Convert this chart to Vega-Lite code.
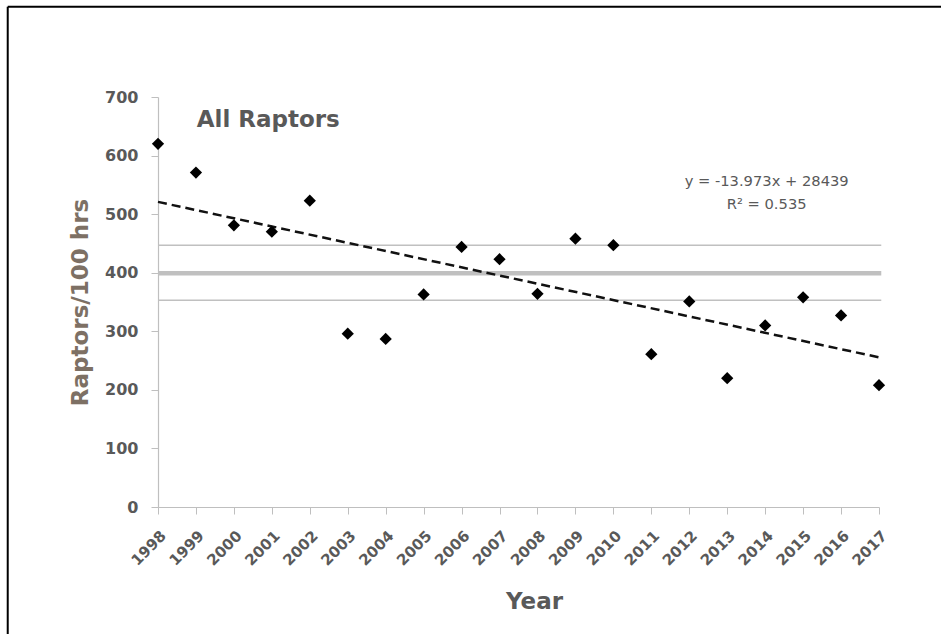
{
  "$schema": "https://vega.github.io/schema/vega-lite/v6.json",
  "width": 721,
  "height": 410,
  "autosize": {"type": "none"},
  "padding": {"left": 158, "top": 97, "right": 62, "bottom": 127},
  "background": "white",
  "config": {"view": {"stroke": null}, "font": "DejaVu Sans"},
  "datasets": {
    "counts": [
      {"year": 1998, "value": 620},
      {"year": 1999, "value": 571},
      {"year": 2000, "value": 481},
      {"year": 2001, "value": 470},
      {"year": 2002, "value": 523},
      {"year": 2003, "value": 296},
      {"year": 2004, "value": 287},
      {"year": 2005, "value": 363},
      {"year": 2006, "value": 444},
      {"year": 2007, "value": 423},
      {"year": 2008, "value": 364},
      {"year": 2009, "value": 458},
      {"year": 2010, "value": 447},
      {"year": 2011, "value": 261},
      {"year": 2012, "value": 351},
      {"year": 2013, "value": 220},
      {"year": 2014, "value": 310},
      {"year": 2015, "value": 358},
      {"year": 2016, "value": 327},
      {"year": 2017, "value": 208}
    ],
    "mean": [{"year": 1998, "year2": 2017.06, "value": 399}],
    "limits": [{"year": 1998, "year2": 2017.06, "value": 447}, {"year": 1998, "year2": 2017.06, "value": 353}],
    "trend": [{"year": 1998, "value": 520.9}, {"year": 2017, "value": 255.5}],
    "frameV": [{"year": 1994.04, "value": 854, "value2": -230}],
    "frameH": [{"year": 1994.04, "year2": 2030, "value": 854}],
    "title": [{"year": 1999.02, "value": 649, "label": "All Raptors"}],
    "eq": [
      {"year": 2014.04, "value": 548, "label": "y = -13.973x + 28439"},
      {"year": 2014.04, "value": 509, "label": "R² = 0.535"}
    ]
  },
  "encoding": {
    "x": {
      "field": "year", "type": "quantitative",
      "scale": {"domain": [1998, 2017], "nice": false, "zero": false},
      "title": "Year",
      "axis": {
        "values": [1998, 1999, 2000, 2001, 2002, 2003, 2004, 2005, 2006, 2007, 2008, 2009, 2010, 2011, 2012, 2013, 2014, 2015, 2016, 2017],
        "format": "d", "grid": false, "labelAngle": -45,
        "labelOverlap": false, "labelBound": false, "labelFlush": false,
        "labelFontSize": 15, "labelFontWeight": "bold", "labelColor": "#595959",
        "labelPadding": 14,
        "domainColor": "#bfbfbf", "domainWidth": 1.2, "tickColor": "#bfbfbf", "tickSize": 7,
        "titleFontSize": 23, "titleFontWeight": "bold", "titleColor": "#595959",
        "titleX": 376, "titleY": 101, "titleBaseline": "alphabetic", "titleAnchor": "middle"
      }
    },
    "y": {
      "field": "value", "type": "quantitative",
      "scale": {"domain": [0, 700], "nice": false, "zero": false},
      "title": "Raptors/100 hrs",
      "axis": {
        "values": [0, 100, 200, 300, 400, 500, 600, 700],
        "grid": false, "labelFontSize": 16, "labelFontWeight": "bold", "labelColor": "#595959",
        "labelPadding": 13, "labelOverlap": false, "labelFlush": false,
        "domainColor": "#bfbfbf", "domainWidth": 1.2, "tickColor": "#bfbfbf", "tickSize": 7,
        "titleFontSize": 23, "titleFontWeight": "bold", "titleColor": "#7d7064",
        "titlePadding": 12
      }
    }
  },
  "layer": [
    {
      "data": {"name": "limits"},
      "mark": {"type": "rule", "color": "#c0c0c0", "strokeWidth": 1.5},
      "encoding": {"x2": {"field": "year2"}}
    },
    {
      "data": {"name": "mean"},
      "mark": {"type": "rule", "color": "#c0c0c0", "strokeWidth": 4.5},
      "encoding": {"x2": {"field": "year2"}}
    },
    {
      "data": {"name": "trend"},
      "mark": {"type": "line", "color": "#111111", "strokeWidth": 2.5, "strokeDash": [9, 5]},
      "encoding": {}
    },
    {
      "data": {"name": "counts"},
      "mark": {"type": "point", "shape": "diamond", "filled": true, "size": 150, "color": "#000000", "opacity": 1},
      "encoding": {}
    },
    {
      "data": {"name": "title"},
      "mark": {"type": "text", "align": "left", "baseline": "alphabetic", "fontSize": 23, "fontWeight": "bold", "color": "#595959"},
      "encoding": {"text": {"field": "label"}}
    },
    {
      "data": {"name": "eq"},
      "mark": {"type": "text", "align": "center", "baseline": "alphabetic", "fontSize": 14.7, "color": "#595959"},
      "encoding": {"text": {"field": "label"}}
    },
    {
      "data": {"name": "frameV"},
      "mark": {"type": "rule", "color": "#000000", "strokeWidth": 2},
      "encoding": {"y2": {"field": "value2"}}
    },
    {
      "data": {"name": "frameH"},
      "mark": {"type": "rule", "color": "#000000", "strokeWidth": 2},
      "encoding": {"x2": {"field": "year2"}}
    }
  ]
}
